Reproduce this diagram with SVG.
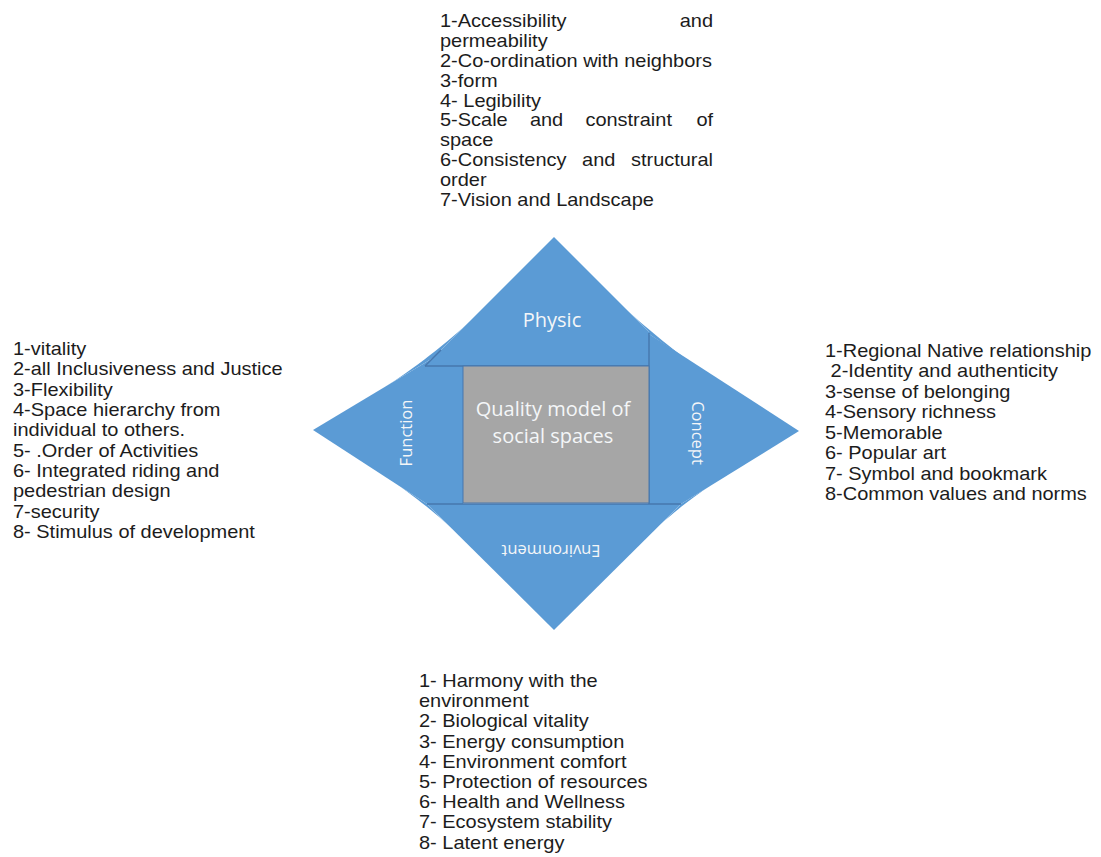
<svg xmlns="http://www.w3.org/2000/svg" width="1101" height="857" viewBox="0 0 1101 857">
<style>
.piece{fill:#5b9bd5;stroke:none}
.fill{fill:#5b9bd5;stroke:none}
.div{stroke:#4677ad;stroke-width:1.4;fill:none}
.lbl{font-family:"Open Sans","Noto Sans",sans-serif;fill:#f4f6f8;text-anchor:middle}
.list{font-family:"Liberation Sans",Arial,sans-serif;font-size:18px;fill:#1c1c1c}
</style>
<rect width="1101" height="857" fill="#ffffff"/>

<g id="diamond">
  <path class="fill" d="M385,386.8 L433,358 L470,321 C452,339 410,372 385,386.8 Z"/>
  <path class="fill" d="M625,308 L649,332 L649,334 L692,363 C676,352 640,323 625,308 Z"/>
  <path class="fill" d="M395,483.2 L427,504 L450,527 C440,517 412,494 395,483.2 Z"/>
  <path class="fill" d="M710,486.1 L681,504 L660,525 C668,517 695,495.4 710,486.1 Z"/>
</g>

<g id="function">
  <path class="piece" d="M313,430 L463,340 L463,504 L427,504 Z"/>
  <text class="lbl" font-size="16.5" transform="translate(412,433) rotate(-90)">Function</text>
</g>
<g id="concept">
  <path class="piece" d="M649,334 L799,431 L681,504 L649,504 Z"/>
  <text class="lbl" font-size="16.5" transform="translate(692,433) rotate(90)">Concept</text>
</g>
<g id="physic">
  <path class="piece" d="M554,237 L649,332 L649,366 L425,366 Z"/>
  <text class="lbl" font-size="20" x="552" y="327">Physic</text>
</g>
<g id="environment">
  <path class="piece" d="M427,504 L681,504 L554,630 Z"/>
  <text class="lbl" font-size="16.5" transform="translate(551,545) rotate(180)">Environment</text>
</g>

<g id="dividers">
  <path class="div" d="M425,366 L649,366"/>
  <path class="div" d="M425,366 L441,350"/>
  <path class="div" d="M649,333 L649,504"/>
  <path class="div" d="M427,504 L681,504"/>
</g>

<g id="center">
  <rect x="463" y="366" width="186" height="137" fill="#a6a6a6" stroke="#4677ad" stroke-width="1"/>
  <text class="lbl" font-size="20" fill="#ececec" x="553" y="416">Quality model of</text>
  <text class="lbl" font-size="20" fill="#ececec" x="553" y="443">social spaces</text>
</g>

<g id="physic-list" class="list" transform="translate(440,0) scale(1.11,1)">
  <text x="0" y="27">1-Accessibility</text>
  <text x="246" y="27" text-anchor="end">and</text>
  <text x="0" y="46.9">permeability</text>
  <text x="0" y="66.8">2-Co-ordination with neighbors</text>
  <text x="0" y="86.7">3-form</text>
  <text x="0" y="106.6">4- Legibility</text>
  <text x="0" y="126.5">5-Scale</text>
  <text x="81" y="126.5">and</text>
  <text x="131" y="126.5">constraint</text>
  <text x="246" y="126.5" text-anchor="end">of</text>
  <text x="0" y="146.4">space</text>
  <text x="0" y="166.3">6-Consistency</text>
  <text x="128" y="166.3">and</text>
  <text x="246" y="166.3" text-anchor="end">structural</text>
  <text x="0" y="186.2">order</text>
  <text x="0" y="206.1">7-Vision and Landscape</text>
</g>

<g id="function-list" class="list" transform="translate(13,0) scale(1.11,1)">
  <text x="0" y="355">1-vitality</text>
  <text x="0" y="375.3">2-all Inclusiveness and Justice</text>
  <text x="0" y="395.7">3-Flexibility</text>
  <text x="0" y="416">4-Space hierarchy from</text>
  <text x="0" y="436.3">individual to others.</text>
  <text x="0" y="456.7">5- .Order of Activities</text>
  <text x="0" y="477">6- Integrated riding and</text>
  <text x="0" y="497.3">pedestrian design</text>
  <text x="0" y="517.7">7-security</text>
  <text x="0" y="538">8- Stimulus of development</text>
</g>

<g id="concept-list" class="list" transform="translate(825,0) scale(1.11,1)">
  <text x="0" y="357">1-Regional Native relationship</text>
  <text x="5" y="377.4">2-Identity and authenticity</text>
  <text x="0" y="397.9">3-sense of belonging</text>
  <text x="0" y="418.3">4-Sensory richness</text>
  <text x="0" y="438.7">5-Memorable</text>
  <text x="0" y="459.1">6- Popular art</text>
  <text x="0" y="479.6">7- Symbol and bookmark</text>
  <text x="0" y="500">8-Common values and norms</text>
</g>

<g id="environment-list" class="list" transform="translate(419,0) scale(1.11,1)">
  <text x="0" y="687">1- Harmony with the</text>
  <text x="0" y="707.2">environment</text>
  <text x="0" y="727.4">2- Biological vitality</text>
  <text x="0" y="747.6">3- Energy consumption</text>
  <text x="0" y="767.8">4- Environment comfort</text>
  <text x="0" y="788">5- Protection of resources</text>
  <text x="0" y="808.2">6- Health and Wellness</text>
  <text x="0" y="828.4">7- Ecosystem stability</text>
  <text x="0" y="848.6">8- Latent energy</text>
</g>
</svg>
